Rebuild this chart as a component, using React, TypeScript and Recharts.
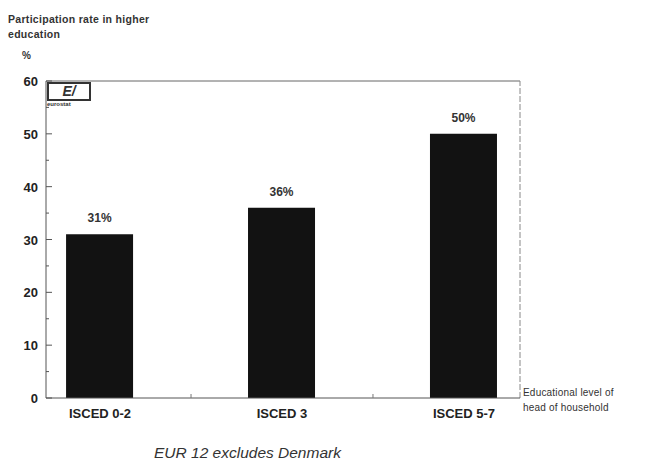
import { BarChart, Bar, XAxis, YAxis, LabelList, ReferenceLine } from 'recharts'

const categories = ['ISCED 0-2', 'ISCED 3', 'ISCED 5-7']
const rates = [31, 36, 50]
const yTicks = [0, 5, 10, 15, 20, 25, 30, 35, 40, 45, 50, 55, 60]
const xTicks = [0, 0.5, 1, 1.5, 2]

const data = categories.map((name, i) => ({ pos: i, name, rate: rates[i] }))
const xDomain = [-0.297, 2.308]

const font = '"Liberation Sans", Arial, sans-serif'

function YTick({ x, y, payload }: any) {
  const major = payload.value % 10 === 0
  return (
    <g>
      <line x1={x + 8} x2={x + 8 + (major ? 6 : 3)} y1={y} y2={y} stroke="#555" />
      {major && (
        <text x={x} y={y} dy={5} textAnchor="end" fontSize={13} fontWeight={700} fill="#222" fontFamily={font}>
          {payload.value}
        </text>
      )}
    </g>
  )
}

function XTick({ x, y, payload }: any) {
  const v = payload.value
  if (!Number.isInteger(v)) {
    return <line x1={x} x2={x} y1={y - 8} y2={y - 12} stroke="#777" />
  }
  return (
    <text x={x} y={y} dy={12} textAnchor="middle" fontSize={13} fontWeight={700} fill="#222" fontFamily={font}>
      {categories[v]}
    </text>
  )
}

export default function App() {
  return (
    <div style={{ position: 'absolute', left: 0, top: 0, width: 655, height: 471, background: '#fff', fontFamily: font }}>
      <div style={{ position: 'absolute', left: 8, top: 12, fontSize: 10.5, fontWeight: 700, color: '#333', lineHeight: '15px', letterSpacing: 0.3 }}>
        Participation rate in higher
        <br />
        education
      </div>
      <div style={{ position: 'absolute', left: 22, top: 50, fontSize: 10, fontWeight: 700, color: '#333' }}>%</div>
      <BarChart width={655} height={471} data={data} margin={{ top: 81, right: 135, bottom: 43, left: 0 }}>
        <XAxis
          dataKey="pos"
          type="number"
          domain={xDomain}
          ticks={xTicks}
          tick={<XTick />}
          tickLine={false}
          tickSize={0}
          tickMargin={8}
          height={30}
          stroke="#555"
          allowDataOverflow
        />
        <YAxis
          domain={[0, 60]}
          ticks={yTicks}
          tick={<YTick />}
          tickLine={false}
          tickSize={0}
          tickMargin={8}
          width={46}
          stroke="#555"
          interval={0}
        />
        <ReferenceLine y={60} stroke="#666" />
        <ReferenceLine x={xDomain[1]} stroke="#888" strokeDasharray="6 2" />
        <Bar dataKey="rate" fill="#121212" barSize={67} isAnimationActive={false}>
          <LabelList
            dataKey="rate"
            position="top"
            offset={12}
            formatter={(v: any) => `${v}%`}
            style={{ fontSize: 12, fontWeight: 700, fill: '#333', fontFamily: font }}
          />
        </Bar>
      </BarChart>
      <div style={{ position: 'absolute', left: 47, top: 82, width: 44, height: 24 }}>
        <div style={{ border: '2px solid #333', width: 40, height: 15, fontSize: 14, fontWeight: 900, lineHeight: '15px', color: '#333', textAlign: 'center', fontStyle: 'italic' }}>E/</div>
        <div style={{ fontSize: 6, fontWeight: 700, color: '#333', lineHeight: '7px' }}>eurostat</div>
      </div>
      <div style={{ position: 'absolute', left: 523, top: 385, fontSize: 10, color: '#333', lineHeight: '15px', letterSpacing: 0.2 }}>
        Educational level of
        <br />
        head of household
      </div>
      <div style={{ position: 'absolute', left: 154, top: 444, fontSize: 15.5, fontStyle: 'italic', color: '#333' }}>
        EUR 12 excludes Denmark
      </div>
    </div>
  )
}
